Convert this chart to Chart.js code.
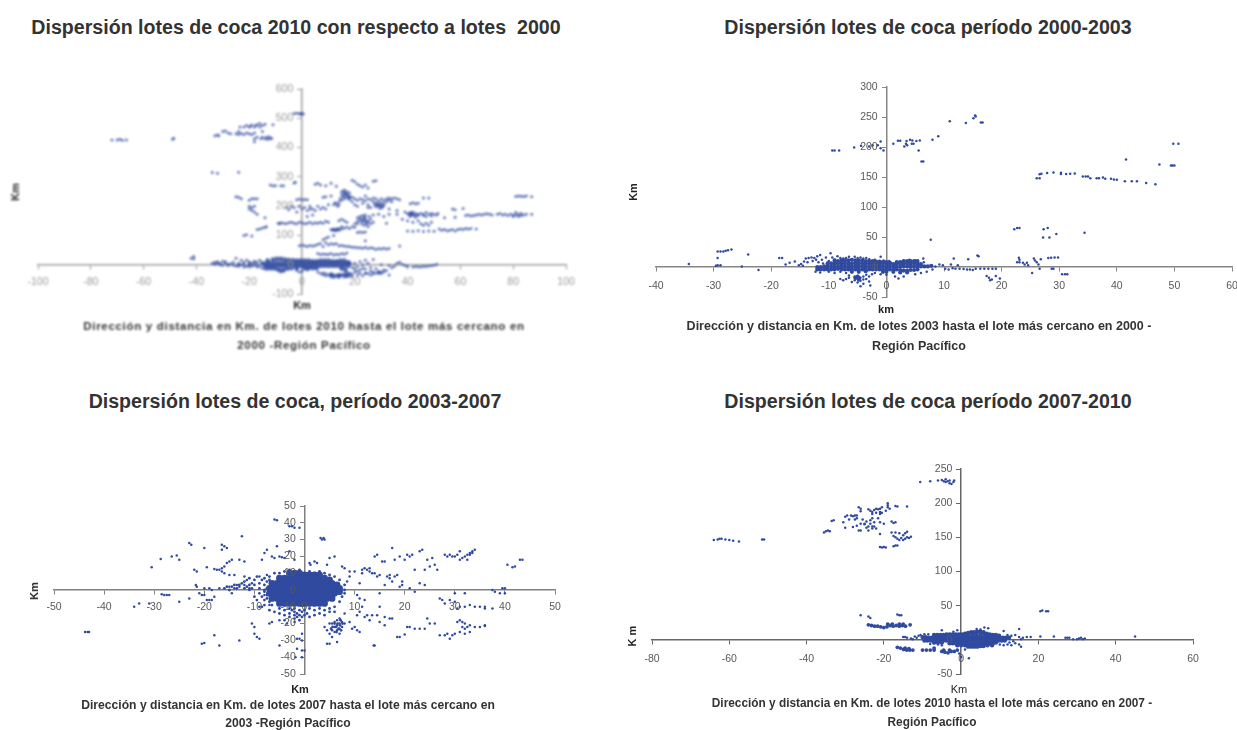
<!DOCTYPE html>
<html>
<head>
<meta charset="utf-8">
<title>Dispersión lotes de coca</title>
<script src="https://cdn.jsdelivr.net/npm/chart.js@4"></script>
<style>
    html, body { margin: 0; padding: 0; width: 1237px; height: 730px; overflow: hidden; background: #fff; }
    body { font-family: "Liberation Sans", Arial, sans-serif; position: relative; }
    canvas { position: absolute; }
    .t { position: absolute; transform: translate(-50%, -50%); white-space: pre; color: #262626; }
    .titulo { font-size: 19.6px; font-weight: bold; color: #333; }
    .pie { font-size: 12px; font-weight: bold; color: #333; }
    .eje { font-size: 11px; font-weight: bold; color: #222; }
    .rot { transform: translate(-50%, -50%) rotate(-90deg); }
    .borroso { filter: blur(0.9px); }
</style>
</head>
<body>
<canvas id="c1" width="600" height="260" class="borroso" style="left:0;top:60px"></canvas>
<canvas id="c2" width="640" height="260" style="left:620px;top:60px"></canvas>
<canvas id="c3" width="600" height="220" style="left:0;top:480px"></canvas>
<canvas id="c4" width="640" height="250" style="left:620px;top:450px"></canvas>

<div class="t titulo" style="left:296px;top:27px">Dispersión lotes de coca 2010 con respecto a lotes  2000</div>
<div class="t titulo" style="left:928px;top:27px">Dispersión lotes de coca período 2000-2003</div>
<div class="t titulo" style="left:295px;top:401px">Dispersión lotes de coca, período 2003-2007</div>
<div class="t titulo" style="left:928px;top:401px">Dispersión lotes de coca período 2007-2010</div>

<div class="t eje borroso" style="left:302px;top:305px">Km</div>
<div class="t eje rot borroso" style="left:15px;top:192px">Km</div>
<div class="t pie borroso" style="left:304px;top:326px;font-size:11.5px;letter-spacing:0.7px">Dirección y distancia en Km. de lotes 2010 hasta el lote más cercano en</div>
<div class="t pie borroso" style="left:304px;top:345px;font-size:11.5px;letter-spacing:0.7px">2000 -Región Pacífico</div>

<div class="t eje" style="left:886px;top:309px">km</div>
<div class="t eje rot" style="left:633px;top:192px">Km</div>
<div class="t pie" style="left:919px;top:326px;font-size:12.5px">Dirección y distancia en Km. de lotes 2003 hasta el lote más cercano en 2000 -</div>
<div class="t pie" style="left:919px;top:346px;font-size:12.5px">Región Pacífico</div>

<div class="t eje" style="left:300px;top:689px">Km</div>
<div class="t eje rot" style="left:34px;top:591px">Km</div>
<div class="t pie" style="left:288px;top:705px;font-size:12.15px">Dirección y distancia en Km. de lotes 2007 hasta el lote más cercano en</div>
<div class="t pie" style="left:288px;top:723px;font-size:12.15px">2003 -Región Pacífico</div>

<div class="t eje" style="left:959px;top:689px;font-weight:normal">Km</div>
<div class="t eje rot" style="left:632px;top:636px">K m</div>
<div class="t pie" style="left:932px;top:703px;font-size:11.85px">Dirección y distancia en Km. de lotes 2010 hasta el lote más cercano en 2007 -</div>
<div class="t pie" style="left:932px;top:722px;font-size:11.85px">Región Pacífico</div>

<script>
// values, [km x, km y]

// 2010 vs 2000
const dispersos2010 = [
[-3,516],[-2,517],[-1,516],[-0.5,514],[0,517],[0.5,515],
[-72,426],[-70,426],[-69,428],[-68,425],[-66.5,426],[-49,428],[-48.6,432],
[-33,440],[-32,443],[-31.5,440],[-30,455],[-29,457],[-28,450],[-27,447],[-25,447],[-24,455],[-24,445],[-23.5,470],[-23,448],[-22,470],[-22,445],[-21,475],[-21,450],[-20,470],[-20,447],[-19.5,473],[-19,477],[-19,445],[-18,470],[-18,450],[-17.5,475],[-17,478],[-16,482],[-16,470],[-15,475],[-15,455],[-14,480],[-18,430],[-18,420],[-17,435],[-15.5,430],[-15,435],[-14,430],[-13.5,435],[-13,428],[-12.5,437],[-12,430],[-11.5,432],[-11,478],
[-34,315],[-32,312],[-24,316],[-25,232],[-24,230],[-23,225],[-20,220],[-19,225],[-18,225],[-17,225],[-20,200],[-20,190],[-19,195],[-19,185],[-18,180],[-18,200],[-17,172],[-14,160],
[-17,120],[-16,122],[-15,125],[-14,128],[-13.5,130],[-22,100],[-21,102],[-19,98],
[-12,272],[-11,270],[-10,270],[-8,270],[-7,270],[-3,279],[-2.5,282],
[-2,222],[-1,224],[0,222],[1,223],[2,222],[3,190],[-6,195],[-5,188],[-4,200],[-3,195],[-2,180],[-1,200],[0,190],[1,195],[2,185],[3,200],[4,190],[5,185],[6,200],[7,190],[8,195],[9,190],[10,205],[4,170],[2,165],
[-9,142],[-8.5,140],[-8,143],[-7,142],[-6,140],[-5,143],[-4,145],[-3,142],[-2,140],[-1,145],[0,143],[1,140],[2,142],[3,145],[4,140],[5,143],[6,142],[7,145],[8,142],[9,148],[10,145],
[5,275],[6,278],[7,272],[9,270],[11,278],[13,268],[19,288],[20,283],[21,275],[22,270],[23,265],[24,272],[25,262],[27,285],[28,287],[8,230],[9,232],[11,235],
[12,205],[12.5,212],[13,208],[13.5,200],[14,215],[14,205],[15,250],[15,240],[15,220],[16,255],[16,245],[16,235],[16,225],[16.5,240],[17,250],[17,238],[17,228],[17.5,232],[18,245],[18,235],[18,222],[19,230],[19,215],[20,225],[20,205],[21,220],[21,200],[22,225],[23,222],[23,210],[24,235],[24,218],[25,225],[25,205],[26,222],[26,195],[27,215],[27,228],[27.5,205],[28,225],[28,212],[28,198],[29,218],[29,208],[29,200],[29.5,192],[30,225],[30,212],[30,203],[30.5,195],[31,220],[31,208],[32,225],[32,215],[33,228],[33,220],[34,225],[34,215],[35,228],[36,225],[37,222],[25,195],[33,190],[36,185],
[41,208],[42,212],[43,208],[44,210],[46,228],[48,228],
[39,180],[40,175],[40.5,170],[41,178],[41,165],[41.5,172],[42,180],[42,168],[43,175],[43,162],[44,172],[45,175],[46,168],[46,172],[47,178],[47,165],[48,172],[49,175],[49,166],[50,172],[51,170],[51.5,175],[38,155],[40,150],[42,145],[44,150],[45,140],[46,135],[47,142],[48,135],[49,145],[54,160],[58,162],[58,188],[57,190],[61,192],
[62,168],[63,170],[64,166],[65,168],[66,170],[67,172],[68,170],[69,172],[70,174],[71,172],[72,170],[74,172],[75,175],[76,170],[77,172],[78,168],[79,172],[80,170],[80,165],[81,178],[81,170],[82,172],[82,165],[83,175],[83,168],[84,170],[85,172],[87,172],[81,233],[82,235],[83,234],[84,233],[85,235],[87,232],
[40,115],[42,114],[44,116],[46,113],[48,115],[50,114],[52,122],[53,118],[54,120],[55,116],[56,118],[57,120],[58,115],[59,120],[60,122],[61,120],[62,124],[63,122],[64,124],[66,122],
[11,120],[11.5,118],[12,122],[12.5,116],[13,120],[13.5,124],[14,118],[15,122],[15,130],[16,125],[17,128],[18,124],[19,130],[20,128],[21,110],[22,112],[23,110],[24,112],[21,140],
[20,140],[21,148],[21,160],[22,150],[22,165],[22.5,140],[23,155],[23,168],[23.5,135],[24,145],[24,160],[24,170],[25,150],[25,130],[25.5,165],[26,140],[26,155],[27,170],[27,145],[29,172],[31,165],[32,142],[14,150],[15,155],[16,150],[17,145],[33,172],[36,172],
[-1,65],[0,67],[1,65],[2,62],[3,66],[4,64],[5,66],[6,70],[7,72],[8,62],[9,75],[10,68],[11,72],[12,70],[13,72],[14,65],[15,66],[16,64],[17,62],[18,62],[19,60],[20,60],[21,58],[22,58],[23,56],[24,60],[25,55],[26,58],[27,56],[28,52],[29,55],[30,54],[31,56],[32,54],[33,55],[37,64],[24,82],[12,100],[10,95],[9,90],[8,85],
[6,38],[7,35],[8,37],[9,36],[10,35],[11,38],[12,33],[13,36],[14,34],[15,38],[16,36],[17,40],[-41,20],[-41,28],[-42,22],
[6,-25],[7,-30],[8,-28],[9,-30],[10,-35],[11,-35],[12,-38],[13,-40],[14,-35],[15,-38],[16,-30],[17,-35],[18,-28],[19,-40],[20,-25],[21,-35],[22,-30],[23,-38],[24,-28],[25,-30],[26,-35],[27,-25],[28,-28],[29,-22],[30,-30],[31,-25],[32,-20],[33,-35],[34,-10],[35,-5],[36,5],[37,8],[38,2],[39,-3],[40,-5],[-2,-20],[-1,-25],[0,-22],[2,-18],
[42,-8],[43,-6],[44,-7],[45,-8],[46,-5],[47,-6],[48,-4],[49,-3],[50,-2],[51,2],
[-34,5],[-33,8],[-32,10],[-31,5],[-30,12],[-29,6],[-28,-3],[-27,3],[-26,8],[-25,22],[-24,-5],[-24,5],[-23,15],[-22,-8],[-22,8],[-21,15],[-20,0],[-20,10],[-19,-5],[-18,12],[-17,-8],[-17,8],[-16,15],[20,5],[21,-8],[22,10],[23,0],[24,-15],[24,15],[25,5],[26,-10],[27,18],[30,0],[33,-3],
[16,248],[17,242],[15.5,232],[18,228],[14.5,226],[29,205],[30,198],[28.5,204],[31,202],[41,175],[42,172],[43,170],[44,168],[41.5,176],[23,148],[24,152],[25,145],[23.5,160],[22,158],[24.5,138],[13,118],[14,122],[12,120],
[-30,-2],[-28,2],[-26,-2],[-24,0],[-22,2],[-20,-4],[-19,5],[-18,-2],[-17,0],[24,-30],[27,-32],[29,-26],[30,-25],[13,-35],[14,-38],[15,-33],[12,-34],[16,-36],[17,-27],[18,-32],[-8,-25],[-7,-22],[-9,-20],
[-33,2],[-32,6],[-31,0],[-29,10],[-25,-4],[-23,0],[-21,-6],[-20,6],[-18,8],[-16,-6],[-15,-12],[-14,-15],[19,-10],[20,-15],[21,-22],[22,-18],[23,-12],[26,-22],[28,-14],[29,-30],[31,-18],[11,-42],[12,-44],[14,-44],[16,-42],[18,-38],[19,-32],[9,-38],[8,-34]
];
const nucleo2010 = [
[-13,14],[-11,18],[-9.5,20],[-8,20],[-6.5,18],[-5,16],[-3.5,15],[-2,14],[-0.5,14],[1,14],[2.5,14],[4,12],[5.5,12],[7,14],[8.5,14],[10,14],[11.5,12],[13,12],[14.5,14],[16,14],[17.5,8],
[-15,5],[-13.5,5],[-12,6],[-10.5,6],[-9,6],[-7.5,6],[-6,6],[-4.5,6],[-3,6],[-1.5,6],[0,6],[1.5,6],[3,6],[4.5,6],[6,6],[7.5,6],[9,6],[10.5,6],[12,6],[13.5,6],[15,6],[16.5,6],[18,4],
[-14,-4],[-12.5,-4],[-11,-4],[-9.5,-4],[-8,-4],[-6.5,-4],[-5,-4],[-3.5,-4],[-2,-4],[-0.5,-4],[1,-4],[2.5,-4],[4,-4],[5.5,-4],[7,-4],[8.5,-4],[10,-4],[11.5,-4],[13,-4],[14.5,-4],[16,-4],[17.5,-4],
[-13,-13],[-11.5,-13],[-10,-14],[-8.5,-18],[-7,-18],[-5.5,-14],[-4,-12],[-2,-12],[1,-12],[2.5,-12],[4,-12],[5.5,-12],[15,-14],[16.5,-18],[14,-36],[17,-38],[11,-34]
];

// 2003 vs 2000
const dispersos2003 = [
[11,243],[13.8,240],[15.1,248],[15.4,252.5],[15.5,251],[16.4,241],[16.7,241],[9,218],[8,212],[5.8,211],[5.2,210],[4.5,211],[4.1,212],[3.5,210],[2.4,210.5],[2,210.5],[1.2,205.5],[3.4,205.5],[3.1,201],[3.6,203],[4.4,205.5],[4.7,205.5],[5.6,194],[6.1,176],[6.4,176],
[-9.4,194],[-9,194],[-8.2,194],[-5.6,199],[-4.4,202],[-3,201],[-2.4,203],[-1.5,203],[-1,209],[-1,198],[-0.5,194],
[26.1,148],[26.6,148],[26.6,154.5],[26.9,155.5],[27.9,156.5],[29,157.5],[30.3,157],[30.3,155],[31.2,155],[31.9,155.5],[32.7,156],[34.1,151],[34.6,151],[35,151],[35.4,148],[36.5,148],[36.9,148],[37.6,149],[38,147],[39,147],[39.5,146],[40,145.5],[41.4,143],[42.6,143],[43.5,143],[45.1,140],[46.7,138],
[41.6,179],[47.4,171],[49.4,169],[49.7,169],[50,169],[49.8,205.5],[50.7,205.5],
[22.2,63],[22.7,65],[23.1,65],[27.3,63],[28,65],[27.2,49],[28.3,49],[29.5,55],[34.4,57],[7.7,45.5],
[23,15.5],[23.1,12],[22.7,8],[23.1,8],[23.7,7],[24,4],[24.4,7],[24.6,3],[25.6,14],[25.8,11],[26.1,8],[26.4,4],[26.8,13],[28.1,15],[28.6,15.5],[29.2,16],[29.8,16],
[25.3,-10],[26.6,-3],[28.7,-3],[29,-3],[30.5,-12],[31,-12],[31.4,-12],[17.4,-15],[17.8,-18],[18.3,-21],[19,-15],[19.7,-19],[18,-22],
[10.2,-3],[10.8,-4],[11.5,-2],[12,-3],[12.7,-3],[13.4,-3.5],[14,-4],[14.5,-4],[15,-5],[15.5,-3],[16.3,-3],[17,-3],[17.7,-3],[18.4,-3],[19,-3],
[9.2,4],[9.8,3],[11.7,14],[14.2,13],[15.8,19],[16,18],[11.2,4],[12.4,3],[6.4,14],
[-34.3,5],[-29.3,26],[-28.8,26],[-28.3,26],[-27.9,27],[-27.5,28],[-26.9,29],[-29.3,15],[-29.3,3],[-28.8,3],[-29.6,2],[-25.1,1],[-24,21],[-22.2,-5],[-18.6,15],[-18.1,15],[-17.5,4],[-16.8,7],[-15.9,9],[-15.2,3],[-14.8,5],[-14.5,2],[-14.3,9],[-14,14],[-13.7,8],[-13.5,15],[-13,16],[-12.8,10],[-12.5,15],[-12.2,12],[-12,18],[-11.8,8],[-11.5,20],[-11.2,12],[-11,6],[-10.5,16],[-10,10],[-9.7,23],[-9.4,16],[-9,12],[-8.5,18],[-8,15],[-7.5,14],[-7,15],[-6.5,17],[-6,12],[-5.5,17],[-5,15],[-4.5,16],[-4,14],[-3.5,15],[-3,13],[-2,12],[-1,17],[-0.5,11],[0.5,10],[4,12],[5,11],[6.5,8],
[-12.3,-8],[-11.5,-9],[-10,-8],[-9,-10],[-8,-8],[-7,-10],[-8,-20],[-7.5,-22],[-7,-20],[-6.5,-18],[-6.5,-14],[-6,-25],[-5.5,-16],[-5.5,-22],[-5,-15],[-5,-20],[-5,-26],[-4.5,-18],[-4.5,-23],[-4,-16],[-4,-21],[-4,-28],[-3.5,-20],[-3.5,-13],[-3,-24],[-3,-16],[-2.5,-12],[-2.8,-31],[-4.5,-32],[-2,-10],[1.5,-16],[2.1,-19],[3,-16],[0,-13],[-1,-12],[5,-12],[6,-10],[7,-8],[8,-4],[8.5,1]
];
const nucleo2003 = [
[-9,11],[-8.4,10],[-7.8,11],[-7.2,11],[-6.6,11],[-6,12],[-5.4,11],[-4.8,11],[-4.2,11],[-3.6,10],[-3,10],[-2.4,10],[-1.8,9],[-1.2,9],[-0.6,8],[0,8],[0.6,7],[1.8,8],[2.4,8],[3,10],[3.6,10],[4.2,10],[4.8,10],[5.4,10],
[-10.2,6],[-9.6,6],[-9,6],[-8.4,6],[-7.8,6],[-7.2,6],[-6.6,6],[-6,6],[-5.4,6],[-4.8,6],[-4.2,6],[-3.6,6],[-3,6],[-2.4,6],[-1.8,6],[-1.2,6],[-0.6,6],[0,6],[0.6,6],[1.2,5],[1.8,6],[2.4,6],[3,6],[3.6,6],[4.2,6],[4.8,6],[5.4,6],[6,5],
[-12,0],[-11.4,0],[-10.8,1],[-10.2,1],[-9.6,1],[-9,1],[-8.4,1],[-7.8,1],[-7.2,1],[-6.6,1],[-6,1],[-5.4,1],[-4.8,1],[-4.2,1],[-3.6,1],[-3,1],[-2.4,1],[-1.8,1],[-1.2,1],[-0.6,1],[0,1],[0.6,1],[1.2,1],[1.8,1],[2.4,1],[3,1],[3.6,1],[4.2,1],[4.8,1],[5.4,1],[6,1],[6.6,1],[7.2,1],[7.8,2],
[-12,-4],[-11.4,-4],[-10.8,-4],[-10.2,-4],[-9.6,-4],[-9,-4],[-8.4,-3],[-7.8,-4],[-7.2,-4],[-6.6,-4],[-6,-4],[-5.4,-4],[-4.8,-4],[-4.2,-4],[-3.6,-4],[-3,-4],[-2.4,-4],[-1.8,-4],[-1.2,-4],[-0.6,-4],[0,-4],[0.6,-4],[1.2,-4],[1.8,-4],[2.4,-5],[3,-6],[3.6,-6],[4.2,-5],[4.8,-5],[5.4,-4],
[-0.6,-8],[0,-8],[-5.4,-18],[-4.8,-18],[-4.8,-21],[-5,-16],[-6,-8],[-4.8,-8],[-3.6,-7],[1.2,-8],[2.4,-9],[3.6,-9]
];

// 2007 vs 2003
const dispersos2007 = [
[-43.8,-25],[-43.3,-25],[-43,-25],[-34,-10],[-33,-8],[-31,-8],[-30.5,13.5],[-28.5,-2.5],[-28,-3],[-27.5,-3],[-27,-3],[-28.7,18.5],[-26.5,20],[-25.5,20.5],[-25,-7],[-25,18],[-23,28],[-22.6,27],[-23,-5],[-22,12],[-21.5,11],[-21.5,2],[-21.7,3],[-21,-2],[-20.5,-3],[-20,-3],[-20,25],[-20.5,-32],[-20,-31.5],[-20,1],[-19.5,13.5],[-19,1],[-18.5,0],[-18,-4],[-19.5,-6],[-19,-6],[-18.5,-6],[-18,-27],[-17,-33],[-17,1],[-18,12.5],[-17.5,12],[-17,12],[-16.5,11],[-16.5,13],[-16,14],[-16,10],[-16.5,27],[-16.5,24],[-16,26],[-15.5,25],[-15.5,16],[-15,17],[-15,9],[-15,2],[-14.5,18],[-14.5,-2],[-14,1],[-14,9],[-13.5,3],[-13,-30],[-13,18],[-13,2],[-12.5,32],[-12,3],[-12,17],[-12,8],[-11.5,6],[-11,0],[-11,1],[-10.5,4],[-10.5,-20],[-10,-22],[-10,-26],[-9.5,-28],[-9,-29],[-9,8],[-8.5,18],[-8,22],[-8,-3],[-7.5,24],[-7.5,9],[-7,-9],[-7,-20],[-6.5,-19],[-6.5,20],[-6,19],[-6,42],[-5.5,41.5],[-5.5,26],[-5,20],[-5,-33],[-5,-18],[-4.5,19.5],[-4,19],[-4,-18],[-3.5,-20],[-3,23],[-3,38],[-2.5,38],[-2,-19],[-2,18],[-1.5,-29],[-1,-29],[-2,37],[-1,37],[-1.8,-40],[-1.5,-35],[-0.5,-36],[0,-36],[-0.5,-40],[-0.5,-30],[-0.5,-26],
[1,16],[1.2,15],[2,17],[2.5,16],[3.2,31],[3.5,30],[3.8,31],[4,30],[4.5,15],[5,19],[6,20],
[4,-22],[4.5,-24],[4.5,-32],[5,-20],[5,-26],[5,-32],[5.5,-20],[5.5,-24],[5.5,-28],[6,-22],[6,-19],[6,-25],[6.5,-18],[6.5,-21],[6.5,-24],[7,-17],[7,-20],[7,-23],[7,-26],[6.5,-31],[7.5,-19],[7.5,-22],[8,-14],[8,-20],[9,-19],[9.5,-23],[10,-22],[10.5,-24],[11,-25],[10.5,-15],[11,-13],[11.5,-10],[12,-16],[12.5,-15],[13,-18],[13.5,-15],[14,-33],[13.8,-33],[14.5,-15],[15,-19],[16,-21],[15,-10],[16,-16],[17,-17],[17.5,-17],
[8,13],[9,11],[7.5,14],[8.5,5],[9,8],[10,11],[10.5,-3],[11,4],[11,-5],[11.5,10],[12,-6],[11.5,12],[12,13],[12.5,12],[13,13],[13,11],[13.5,10],[14,10],[14,20],[14.5,8],[14.5,21],[15,9],[15,-2],[15.5,17],[16,3],[16,17],[16.5,8],[17,7],[17,9],[17.5,25],[17.5,5],[18,8],[18,18],[18.5,9],[19,20],[19,2],[19.5,5],[19.5,3],[20,18],[20.5,21],[21,1],[21,20],[21.5,21],[22,-1],[22,12],[23,23],[23,4],[23.5,24],[24,3],[24,12],[24.5,18],[25,14],[25.5,19],[26,15],[26.5,12],
[28,21],[28.5,20],[29,21],[29.5,20],[30,20],[30.5,21],[31,23],[31,18],[31.5,19],[32,20],[32.5,21],[32.5,18],[33,22],[33,21],[33.5,23],[33.5,22],[34,24],
[40.5,15],[41.5,13.5],[42,14],[43,18],[43.5,18],[37.5,0],[38,-1],[39,-2],[39.5,1],[40,1],[40,-2],[36,-10],[30,-2],[32,-2],
[27,-5],[27.5,-6],[28,-8],[29,-6],[30,-7],[30.5,-11],[31,-10],[32,-10],[33,-9],[34,-10],[35,-10],[36,-11],[37.5,-11],
[18.5,-28],[19,-28],[20,-26.5],[20.5,-22],[21,-22],[22,-23],[23,-23],[24,-23],[24.5,-17],[25,-20],[26,-20],[27,-27],[28,-27],[28.5,-26],[29,-29],[29.5,-27],[30,-26],[31,-25],[30.5,-19],[31,-18],[31.5,-19],[31.5,-22],[32,-20],[32,-23],[32.5,-22],[33,-25],[33,-21],[34,-22],[35,-22],[36,-21],[36,-21.5],[32,-26]
];
const orla2007 = [
[-16,1],[-15.5,2],[-15,0],[-14.5,2],[-14,3],[-13.5,1],[-13,3],[-12.5,4],[-12,1],[-11.5,2],[-11,3],[-10.5,1],[-12,5],[-11,7],[-10,6],[-9.5,8],[-10,3],[-9,4],[-9,1],[-8.5,6],[-8,7],[-8,3],[-8,0],[-7.5,5],[-7.5,1],[-7,8],[-7,6],[-10,-4],[-9.5,-6],[-9,-2],[-8.5,-4],[-8,-6],[-8,-1],[-7.5,-3],[-9,-10],[-8.5,-10],[-8,-9],[-7.5,-5],[-7,-7],[-6.5,-9],[-6,10],[-5,10],[-4,11],[-3,12],[-2,11],[-1,12],[0,10],[1,11],[2,10],[3,11],[4,10],[5,9],[6,8],[7,6],[8,3],[8,0],[8,-2],[7.5,-4],[7,-7],
[-7,-12],[-6,-13],[-5,-11],[-5,-14],[-4,-12],[-4,-15],[-3,-11],[-3,-14],[-3,-16],[-2.5,-12],[-2,-11],[-2,-13],[-2,-15],[-2,-17],[-1.5,-14],[-1.5,-16],[-1,-12],[-1,-15],[-1,-18],[-0.5,-13],[-0.5,-16],[0,-12],[0,-15],[0.5,-14],[1,-11],[1,-16],[2,-12],[2,-15],[3,-11],[3,-14],[4,-12],[4,-15],[5,-11],[5,-13],[6,-10],[6,-13],
[6,-20],[6.3,-22],[6.6,-20],[6.8,-23],[7.1,-21],[7.2,-18],[5.6,-22],[5.3,-23],[7.3,-24],[6.4,-25],[7.6,-20]
];
const nucleo2007 = [
[-3,10],[-2,10],[-1,10],[0,9],[1,9],[2,9],[3,9],
[-5,7],[-4,7],[-3,7],[-2,7],[-1,7],[0,7],[1,7],[2,7],[3,7],[4,7],[5,6],
[-6.5,4],[-5.5,4],[-4.5,4],[-3.5,4],[-2.5,4],[-1.5,4],[-0.5,4],[0.5,4],[1.5,4],[2.5,4],[3.5,4],[4.5,4],[5.5,4],[6.5,3],
[-7,1],[-6,1],[-5,1],[-4,1],[-3,1],[-2,1],[-1,1],[0,1],[1,1],[2,1],[3,1],[4,1],[5,1],[6,1],[7,1],
[-7,-2],[-6,-2],[-5,-2],[-4,-2],[-3,-2],[-2,-2],[-1,-2],[0,-2],[1,-2],[2,-2],[3,-2],[4,-2],[5,-2],[6,-2],[7,-1],
[-6.5,-5],[-5.5,-5],[-4.5,-5],[-3.5,-5],[-2.5,-5],[-1.5,-5],[-0.5,-5],[0.5,-5],[1.5,-5],[2.5,-5],[3.5,-5],[4.5,-5],[5.5,-5],
[-5,-8],[-4,-8],[-3,-8],[-2,-8],[-1,-8],[0,-8],[1,-8],[2,-8],[3,-8],[4,-8]
];

// 2010 vs 2007
const dispersosB2010 = [
[-10.6,231],[-8,232],[-6,233],[-5,234],[-4.5,232],[-4,235],[-4,231],[-3.5,232],[-3,233],[-3,229],[-2.5,228],[-2,231],[-1.8,233],
[-26.5,194],[-26,192],[-26,188],[-24,191],[-23.5,189],[-23,187],[-23,184],[-22.5,190],[-22,192],[-22,186],[-21.5,191],[-21,192],[-21,187],[-20.5,194],[-20.5,186],[-19.5,189],[-19,194],[-19,197],[-19,200],[-18.5,192],[-17,196],[-16.5,195],[-14,195],
[-33.5,174],[-33,175],[-30.5,172],[-30,180],[-29.5,182],[-29,176],[-28.5,182],[-28,181],[-27.5,182],[-27,178],[-27.5,176],[-27,182],[-26,170],[-25.5,176],[-25,170],[-24.5,173],[-24,166],[-24,160],[-23.5,175],[-23.5,170],[-23,178],[-23,166],[-22.5,172],[-22,163],[-21.5,178],[-21,172],[-21,184],[-20,170],
[-30,164],[-28,165],[-27,167],[-26.5,160],[-26,160],[-25,169],[-24.5,164],[-23,163],[-22.5,166],
[-35,159],[-35.5,157],[-34.5,160],[-34,159],[-21,155],[-18,157],[-17.5,152],[-17,157],[-17,150],[-16.5,148],[-16,156],[-16,146],[-15.5,149],[-15,146],[-15,153],[-14.5,148],[-14,150],[-14,158],[-14.5,156],[-13.5,149],[-13,151],[-17,172],[-18,173],[-17.5,171],
[-21,136],[-20.5,135],[-20,136],[-19.5,135],[-17.5,137],[-17,138],[-16.5,138],
[-64,146],[-63,147],[-62.5,148],[-62,148],[-61,147],[-60,146],[-59,145],[-57.5,144],[-51.5,147],[-51,147],
[-26,36],[-24,34],[-23.5,32],[-16.5,37],[-16,36],[-15.5,36],
[20.5,42],[21,43],[22,42],[22.5,42],[24,5],[20.5,5],[27,3],[27.5,3],[28,3],[29,1],[30,1],[30.5,2],[31,3],[31.5,1],[32,2],[45,5],
[15,16],[15.5,-10],[15,-7],[14,-5],[13,-8],[17,4],[16,3],[15.5,1],[15,4],[18,4],[14,7],[11,13],[7,17],[6,18],[5,15],[4,16],[-1,14],[-2,12],[-5,14],[2,-27],[0,-25],[-0.5,-20],[1,-14],[-14,3],[-13,2],[-14.5,4],[-12.5,1],[-15,4],
[-12,5],[-11,6],[-11.5,3],[-10.5,7],[-9.5,8],[-8.5,8],[12,7],[13,6],[13.5,-2],[12.5,-4],[12,-7],[11,-8],[10,-7],[-8,-6],[-7,-5],[-6,-7],[-5,-8]
];
const bandasB2010 = [
[-24,22],[-23.2,21],[-22.4,20],[-21.6,20],[-20.8,19],[-20,18],[-19.2,19],[-18.4,21],[-17.6,20],[-16.8,21],[-16,20],[-15.2,21],[-14.4,20],[-13.2,22],[-19,23],[-17.8,23],[-16,23],[-15,23],
[-16.5,-11],[-15.7,-12],[-14.9,-14],[-14.1,-15],[-13.3,-15],[-14.5,-12],[-13.5,-13],[-12.5,-15],[-10,-15],[-9,-15],[-8,-15],[-7,-15],[-5,-17],[-4.2,-18],[-3.4,-19],[-2.6,-17],[-1.8,-17],[-1,-15],[-7,-12],[-3,-15],[-4.5,-15]
];
const nucleoB2010 = [
[-7,7],[-6.2,7],[-5.4,7],[-4.6,7],[-3.8,8],[-3,8],[-2.2,8],[-1.4,8],[-0.6,8],[0.2,8],[1,9],[1.8,10],[2.6,11],[3.4,11],[4.2,12],[5,12],[5.8,11],[6.6,9],[7.4,8],[8.2,7],[9,7],[9.8,6],
[-3,6],[-2,6],[-1,6],[0,6],[1,6],[2,6],[3,7],[4,7],[5,7],[6,7],[7,6],[8,5],
[-10,4],[-9.2,4],[-8.4,3],[-7.6,3],[-6.8,3],[-6,3],[-5.2,3],[-4.4,3],[-3.6,3],[-2.8,3],[-2,3],[-1.2,3],[-0.4,3],[0.4,3],[1.2,3],[2,3],[2.8,3],[3.6,3],[4.4,3],[5.2,3],[6,3],[6.8,3],[7.6,3],[8.4,3],[9.2,3],[10,3],[10.8,3],[11.6,3],[12.4,3],
[-9.5,-1],[-8.7,-1],[-7.9,-1],[-7.1,-1],[-6.3,-1],[-5.5,-1],[-4.7,-1],[-3.9,-1],[-3.1,-1],[-2.3,-1],[-1.5,-1],[-0.7,-1],[0.1,-1],[0.9,-1],[1.7,-1],[2.5,-1],[3.3,-1],[4.1,-1],[4.9,-1],[5.7,-1],[6.5,-1],[7.3,-1],[8.1,-1],[8.9,-1],[9.7,-1],[10.5,-1],[11.3,-1],
[-7,-4],[-6,-4],[-5,-4],[-3,-5],[-2.2,-5],[-1.4,-5],[-0.6,-5],[0.2,-5],[1,-5],[1.8,-6],[2.6,-6],[3.4,-6],[4.2,-6],[5,-6],[5.8,-5],[6.6,-5],[7.4,-5],[8.2,-5],[9,-4],
[-1,-8],[0,-8],[1,-8],[1.8,-10],[2.6,-10],[3.4,-10],[4.2,-10],[5,-9],[5.8,-9],[6.8,-8],[8,-8]
];

const colorPunto = '#2F4A9F';

// builds one dataset, pts are [x,y] pairs
function serie(label, pts, radio, color) {
    return {
        label: label,
        data: pts.map(p => ({ x: p[0], y: p[1] })),
        pointRadius: radio,
        pointHoverRadius: radio,
        pointBorderWidth: 0,
        pointBackgroundColor: color || colorPunto,
        showLine: false
    };
}

function dibujar(id, datasets, xr, yr, padding, colorTexto, colorEje, altoX) {
    const eje = (r) => ({
        type: 'linear',
        min: r[0],
        max: r[1],
        ticks: { stepSize: r[2], color: colorTexto, font: { family: 'Liberation Sans', size: 10.5 }, z: 1, maxRotation: 0, autoSkip: false },
        grid: { display: true, drawOnChartArea: false, drawTicks: true, tickLength: 4, color: colorEje },
        border: { display: true, color: colorEje, width: 1.5 }
    });
    const ctx = document.getElementById(id);
    const sx = eje(xr);
    sx.position = { y: 0 };
    sx.ticks.font.lineHeight = altoX; // pushes the x labels down from the axis
    const sy = eje(yr);
    sy.position = { x: 0 };
    sy.ticks.callback = (v) => v + '   ';
    return new Chart(ctx, {
        type: 'scatter',
        data: { datasets: datasets },
        options: {
            responsive: false,
            animation: false,
            layout: { padding: padding },
            plugins: { legend: { display: false }, title: { display: false } },
            scales: { x: sx, y: sy }
        }
    });
}

dibujar('c1', [
    serie('Lotes 2010', dispersos2010, 1.5, 'rgba(47,74,159,0.72)'),
    serie('Lotes 2010 núcleo', nucleo2010, 2.3, 'rgba(47,74,159,0.85)')
], [-100, 100, 20], [-100, 600, 100], { left: 38, right: 34, top: 29, bottom: 26 }, '#9a9a9a', '#9c9c9c', 2);

dibujar('c2', [
    serie('Lotes 2003', dispersos2003, 1.25),
    serie('Lotes 2003 núcleo', nucleo2003, 2.1)
], [-40, 60, 10], [-50, 300, 50], { left: 36, right: 28, top: 27, bottom: 23 }, '#595959', '#868686', 2.3);

dibujar('c3', [
    serie('Lotes 2007', dispersos2007, 1.25),
    serie('Lotes 2007 orla', orla2007, 1.4),
    serie('Lotes 2007 núcleo', nucleo2007, 3.4)
], [-50, 50, 10], [-50, 50, 10], { left: 54, right: 45, top: 26, bottom: 26 }, '#595959', '#808080', 2);

dibujar('c4', [
    serie('Lotes 2010', dispersosB2010, 1.25),
    serie('Lotes 2010 bandas', bandasB2010, 1.9),
    serie('Lotes 2010 núcleo', nucleoB2010, 2.2)
], [-80, 60, 20], [-50, 250, 50], { left: 32, right: 67, top: 19, bottom: 26 }, '#595959', '#666666', 2.3);
</script>
</body>
</html>
